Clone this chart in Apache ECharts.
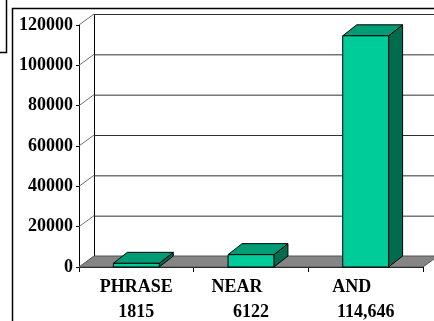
<!DOCTYPE html>
<html>
<head>
<meta charset="utf-8">
<script src="https://cdn.jsdelivr.net/npm/echarts@6/dist/echarts.min.js"></script>
<style>
  html, body { margin: 0; padding: 0; background: #ffffff; overflow: hidden; }
  #chart { width: 434px; height: 321px; }
</style>
</head>
<body>
<div id="chart"></div>
<script>
// Search-result counts per query operator
const categories = ['PHRASE', 'NEAR', 'AND'];
const countLabels = ['1815', '6122', '114,646'];
const counts = [1815, 6122, 114646];
const yTicks = [0, 20000, 40000, 60000, 80000, 100000, 120000];

// Depth offsets for the pseudo-3D look
const WALL_DX = 15, WALL_DY = -11;
const BAR_DX = 14, BAR_DY = -11;
const FONT = '"Liberation Serif", "Times New Roman", serif';

const chart = echarts.init(document.getElementById('chart'), null, { width: 434, height: 321 });

function renderWall(params, api) {
  const cs = params.coordSys;
  const v = api.value(0);
  const p = api.coord([0, v]);
  const x0 = cs.x, y = p[1];
  const children = [];
  if (v === 0) {
    // floor
    children.push({
      type: 'polygon',
      shape: { points: [[x0, y], [x0 + cs.width, y], [x0 + cs.width + WALL_DX, y + WALL_DY], [x0 + WALL_DX, y + WALL_DY]] },
      style: { fill: '#858585', stroke: '#555', lineWidth: 1 }
    });
    // back wall left edge
    const yTop = api.coord([0, yTicks[yTicks.length - 1]])[1];
    children.push({
      type: 'line',
      shape: { x1: x0 + WALL_DX + 0.5, y1: y + WALL_DY, x2: x0 + WALL_DX + 0.5, y2: yTop + WALL_DY },
      style: { stroke: '#000', lineWidth: 1 }
    });
  } else {
    children.push({
      type: 'line',
      shape: { x1: x0, y1: y, x2: x0 + WALL_DX, y2: y + WALL_DY },
      style: { stroke: '#707070', lineWidth: 1 }
    });
    children.push({
      type: 'line',
      shape: { x1: x0 + WALL_DX, y1: y + WALL_DY + 0.5, x2: 440, y2: y + WALL_DY + 0.5 },
      style: { stroke: '#303030', lineWidth: 1 }
    });
  }
  return { type: 'group', children: children };
}

function renderBar(params, api) {
  const top = api.coord([api.value(0), api.value(1)]);
  const base = api.coord([api.value(0), 0]);
  const band = api.size([1, 0])[0];
  const w = band * 0.4;
  const x1 = top[0] - w / 2, x2 = top[0] + w / 2;
  const yt = top[1], yb = base[1];
  const stroke = { stroke: '#000', lineWidth: 1 };
  return {
    type: 'group',
    children: [
      { type: 'polygon', shape: { points: [[x2, yt], [x2 + BAR_DX, yt + BAR_DY], [x2 + BAR_DX, yb + BAR_DY], [x2, yb]] },
        style: Object.assign({ fill: '#006b4f' }, stroke) },
      { type: 'polygon', shape: { points: [[x1, yt], [x2, yt], [x2 + BAR_DX, yt + BAR_DY], [x1 + BAR_DX, yt + BAR_DY]] },
        style: Object.assign({ fill: '#009c76' }, stroke) },
      { type: 'rect', shape: { x: x1, y: yt, width: w, height: yb - yt },
        style: Object.assign({ fill: '#00cc99' }, stroke) }
    ]
  };
}

const labelText = { fontFamily: FONT, fontWeight: 'bold', fontSize: 18, color: '#000', lineHeight: 25 };

chart.setOption({
  animation: false,
  backgroundColor: '#ffffff',
  grid: { left: 79, right: 11, top: 25, bottom: 54, containLabel: false, outerBoundsMode: 'none' },
  xAxis: {
    type: 'category',
    data: categories,
    boundaryGap: true,
    axisLine: { show: true, lineStyle: { color: '#000', width: 1 } },
    axisTick: { show: true, length: 5, interval: 0, lineStyle: { color: '#000' } },
    axisLabel: {
      interval: 0,
      margin: 8,
      color: '#000',
      fontFamily: FONT,
      fontWeight: 'bold',
      fontSize: 18,
      lineHeight: 25,
      formatter: function (value, idx) {
        const head = idx === 0 ? '{name|' + value + '}' : '{nameL|' + value + '}';
        return head + '\n{num|' + countLabels[idx] + '}';
      },
      rich: {
        name: Object.assign({}, labelText),
        nameL: Object.assign({ padding: [0, 28, 0, 0] }, labelText),
        num: Object.assign({}, labelText)
      }
    },
    splitLine: { show: false }
  },
  yAxis: {
    type: 'value',
    min: 0,
    max: 120000,
    interval: 20000,
    axisLine: { show: true, lineStyle: { color: '#000', width: 1 } },
    axisTick: { show: true, length: 3, lineStyle: { color: '#000' } },
    axisLabel: {
      margin: 6,
      color: '#000',
      fontFamily: FONT,
      fontWeight: 'bold',
      fontSize: 18,
      formatter: function (v) { return String(v); }
    },
    splitLine: { show: false }
  },
  graphic: [
    { type: 'polyline', shape: { points: [[6.5, 0], [6.5, 52.5], [0, 52.5]] }, style: { stroke: '#000', lineWidth: 1.5, fill: null }, z: 100 },
    { type: 'polyline', shape: { points: [[12.5, 321], [12.5, 8.5], [434, 8.5]] }, style: { stroke: '#000', lineWidth: 1.5, fill: null }, z: 100 }
  ],
  series: [
    {
      type: 'custom',
      renderItem: renderWall,
      data: yTicks.map(function (t) { return [t]; }),
      encode: { y: 0 },
      silent: true,
      z: 1
    },
    {
      type: 'custom',
      renderItem: renderBar,
      data: counts.map(function (c, i) { return [i, c]; }),
      encode: { x: 0, y: 1 },
      silent: true,
      z: 2
    }
  ]
});
</script>
</body>
</html>
